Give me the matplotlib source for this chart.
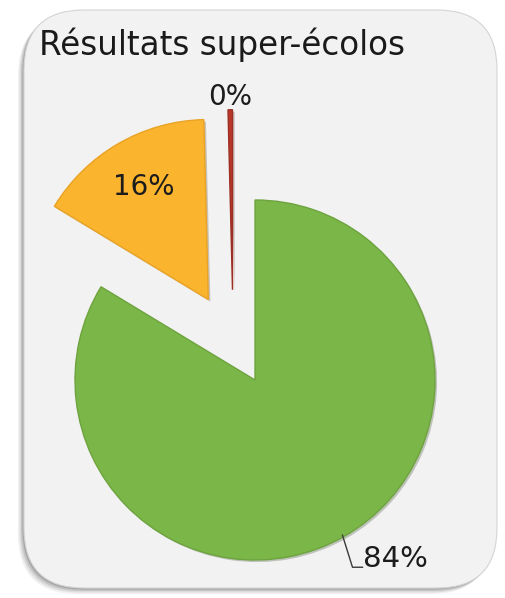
import numpy as np
import matplotlib
matplotlib.use('agg')
import matplotlib.pyplot as plt
import matplotlib.patches as mpatches
import matplotlib.patheffects as pe

# data
labels = ["Oui", "Non", "Sans avis"]
values = [84.0, 16.0, 0.4]
shown = ["84%", "16%", "0%"]
colors = ["#7ab648", "#fbb42e", "#b9382a"]
edges = ["#6ea33f", "#e9a325", "#9c2e22"]
title = "Résultats super-écolos"

W, H = 506, 598
fig = plt.figure(figsize=(W / 100, H / 100), dpi=100)
fig.patch.set_facecolor("white")
ax = fig.add_axes([0, 0, 1, 1])
ax.axis("off")

# rounded frame with soft shadow on the left / bottom
fx0, fy0, fx1, fy1 = 24, 10, 497, 588
for k, a in enumerate([0.07, 0.10, 0.14, 0.20]):
    off = 1.5 * (4 - k)
    sh = mpatches.FancyBboxPatch((fx0 - off, fy0 - off), fx1 - fx0, fy1 - fy0,
                                 boxstyle="round,pad=0,rounding_size=60",
                                 fc="#303030", ec="none", alpha=a, zorder=1)
    ax.add_patch(sh)
frame = mpatches.FancyBboxPatch((fx0, fy0), fx1 - fx0, fy1 - fy0,
                                boxstyle="round,pad=0,rounding_size=60",
                                fc="#f2f2f2", ec="#d4d4d4", lw=0.8, zorder=2)
ax.add_patch(frame)

cx, cy, r = 255, 218, 180
expl = 93
wedges, _ = ax.pie(values, colors=colors, startangle=90, counterclock=False,
                   center=(cx, cy), radius=r, explode=[0, expl, expl],
                   wedgeprops=dict(linewidth=1.0, zorder=3))
for w, e in zip(wedges, edges):
    w.set_edgecolor(e)
    w.set_zorder(3)
    w.set_path_effects([pe.SimplePatchShadow(offset=(1.5, -1.5), alpha=0.25),
                        pe.Normal()])

# the thin slice sits a little to the left in the picture
ang = np.deg2rad(104)
wedges[2].set_center((cx + expl * np.cos(ang), cy + expl * np.sin(ang)))

ax.set_xlim(0, W)
ax.set_ylim(0, H)
ax.set_aspect("equal")

font = "DejaVu Sans"
tcol = "#1c1c1c"

ax.text(39, H - 55, title, fontsize=23.5, family=font, color="#1a1a1a",
        ha="left", va="baseline", zorder=5)

# labels for orange and red slices
for i, dist in [(1, 0.72), (2, 1.07)]:
    w = wedges[i]
    mid = np.deg2rad(0.5 * (w.theta1 + w.theta2))
    wx, wy = w.center
    ax.text(wx + dist * r * np.cos(mid), wy + dist * r * np.sin(mid), shown[i],
            fontsize=20, family=font, color=tcol, ha="center", va="center",
            zorder=5)

# green slice label with leader line
w = wedges[0]
mid = np.deg2rad(0.5 * (w.theta1 + w.theta2))
ax0 = cx + 0.99 * r * np.cos(mid)
ay0 = cy + 0.99 * r * np.sin(mid)
ex, ey = ax0 + 10, ay0 - 32
ax.plot([ax0, ex, ex + 10], [ay0, ey, ey], color="#3a3a3a", lw=1.0, zorder=4)
ax.text(ex + 11, ey, shown[0], fontsize=21, family=font, color=tcol,
        ha="left", va="baseline", zorder=5)

plt.savefig("out.png", dpi=100)
plt.close("all")
